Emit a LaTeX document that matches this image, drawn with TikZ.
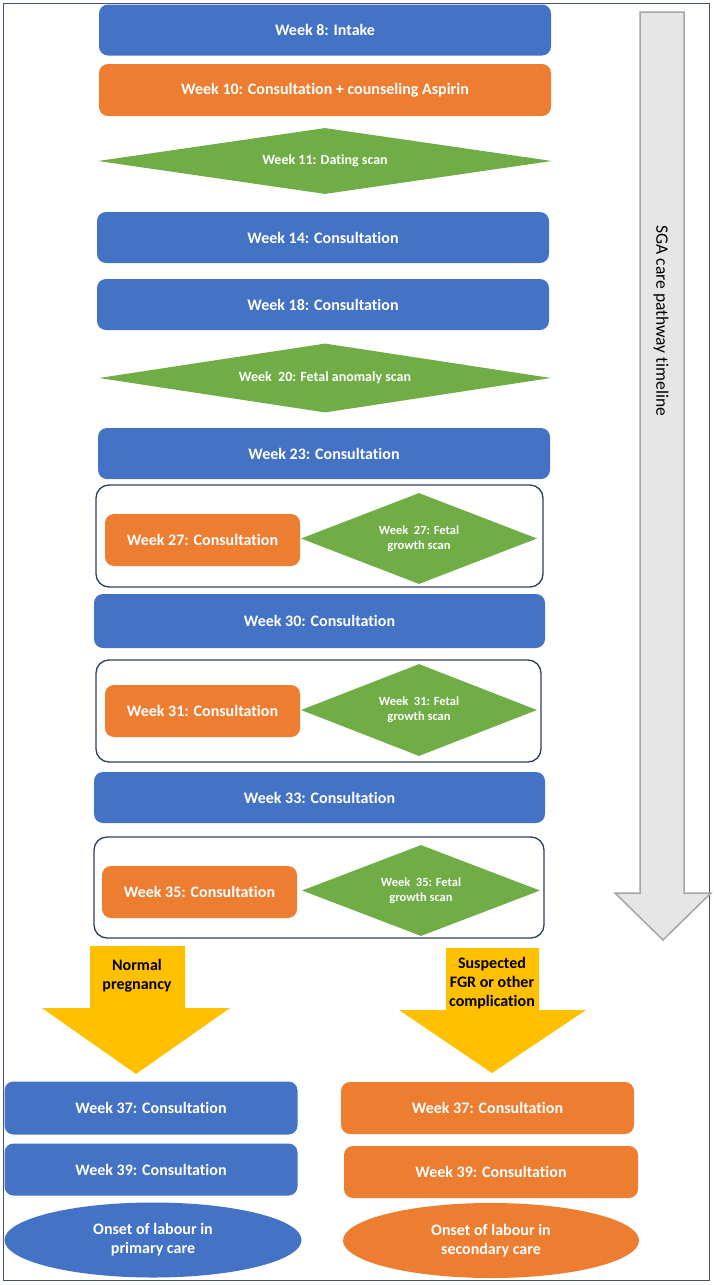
\documentclass[tikz,border=0pt]{standalone}
\usepackage{fontspec}
\setmainfont{Carlito}[Ligatures=NoCommon]
\usetikzlibrary{
  	shapes.geometric,
  	positioning,
  	calc
  }
\definecolor{wkblue}{HTML}{4472C4}
\definecolor{wkorange}{HTML}{ED7D31}
\definecolor{wkgreen}{HTML}{70AD47}
\definecolor{wkyellow}{HTML}{FFC000}
\definecolor{wkgrey}{HTML}{E7E6E6}
\definecolor{wkgreyline}{HTML}{A5A5A5}
\definecolor{wknavy}{HTML}{2F3D5C}
\definecolor{wkframe}{HTML}{44546A}
\tikzstyle{visit}=[rectangle,rounded corners=9pt,text=white,inner sep=0pt,align=center,
  font=\bfseries\fontsize{16}{19}\selectfont]
\tikzstyle{bvisit}=[visit,fill=wkblue]
\tikzstyle{ovisit}=[visit,fill=wkorange]
\tikzstyle{scan}=[diamond,fill=wkgreen,text=white,inner sep=0pt,align=center,aspect=7,
  font=\bfseries\fontsize{14}{17}\selectfont]
\tikzstyle{gscan}=[scan,aspect=2.6,font=\bfseries\fontsize{12.5}{15}\selectfont]
\tikzstyle{grp}=[draw=wknavy,line width=1.3pt,rounded corners=13pt]
\tikzstyle{onset}=[ellipse,text=white,inner sep=0pt,align=center,
  font=\bfseries\fontsize{16}{19}\selectfont]
\tikzstyle{branch}=[align=center,text=black,font=\bfseries\fontsize{16}{19}\selectfont]

\begin{document}
\begin{tikzpicture}[x=1pt,y=-1pt]
    \useasboundingbox (0,0) rectangle (714,1285);
    \draw [wkframe,line width=1pt] (3,3) rectangle (709,1280);

    % timeline arrow down the right side
    \draw [fill=wkgrey,draw=wkgreyline,line width=1.5pt]
       (640,12) -- (684,12) -- (684,893) -- (711,893) --
       (663,940) -- (615,893) -- (640,893) -- cycle;
    \node [rotate=-90,font=\fontsize{17.5}{20}\selectfont] (tl) at (661,321)
       {SGA care pathway timeline};

    % first trimester and mid pregnancy
    \node [bvisit,minimum width=452pt,minimum height=51pt] (w8) at (325,30) {Week 8: Intake};
    \node [ovisit,minimum width=452pt,minimum height=52pt] (w10) at (325,90)
       {Week 10: Consultation + counseling Aspirin};
    \node [scan,minimum width=454pt,minimum height=66pt] (s11) at (325,161) {Week 11: Dating scan};
    \node [bvisit,minimum width=452pt,minimum height=51pt] (w14) at (323,237.5) {Week 14: Consultation};
    \node [bvisit,minimum width=452pt,minimum height=51pt] (w18) at (323,304.5) {Week 18: Consultation};
    \node [scan,minimum width=452pt,minimum height=69pt] (s20) at (325,378)
       {Week\ \ 20: Fetal anomaly scan};
    \node [bvisit,minimum width=452pt,minimum height=51pt] (w23) at (324,453.5) {Week 23: Consultation};

    % week 27 pair
    \draw [grp] (96,485) rectangle (543,587);
    \node [ovisit,minimum width=195pt,minimum height=52pt] (w27) at (202.5,540) {Week 27: Consultation};
    \node [gscan,minimum width=236pt,minimum height=91pt] (s27) at (419,538.5)
       {Week\ \ 27: Fetal\\growth scan};

    \node [bvisit,minimum width=451pt,minimum height=54pt] (w30) at (319.5,621) {Week 30: Consultation};

    % week 31 pair
    \draw [grp] (96,660) rectangle (541,762);
    \node [ovisit,minimum width=195pt,minimum height=52pt] (w31) at (202.5,711) {Week 31: Consultation};
    \node [gscan,minimum width=236pt,minimum height=92pt] (s31) at (419,710)
       {Week\ \ 31: Fetal\\growth scan};

    \node [bvisit,minimum width=451pt,minimum height=51pt] (w33) at (319.5,797.5) {Week 33: Consultation};

    % week 35 pair
    \draw [grp] (94,837) rectangle (544,938);
    \node [ovisit,minimum width=195pt,minimum height=52pt] (w35) at (199.5,892) {Week 35: Consultation};
    \node [gscan,minimum width=238pt,minimum height=91pt] (s35) at (421,890.5)
       {Week\ \ 35: Fetal\\growth scan};

    % the two branches
    \fill [wkyellow] (90,946) -- (185,946) -- (185,1008) -- (230,1008) --
       (136,1074) -- (42,1008) -- (90,1008) -- cycle;
    \node [branch] (np) at (137,976) {Normal\\pregnancy};
    \fill [wkyellow] (446,948) -- (539,948) -- (539,1010) -- (586,1010) --
       (492,1073) -- (399,1010) -- (446,1010) -- cycle;
    \node [branch] (fgr) at (492,983) {Suspected\\FGR or other\\complication};

    % primary care
    \node [bvisit,minimum width=293pt,minimum height=53pt] (p37) at (151,1108) {Week 37: Consultation};
    \node [bvisit,minimum width=293pt,minimum height=52pt] (p39) at (151,1169.5) {Week 39: Consultation};
    \node [onset,fill=wkblue,minimum width=297pt,minimum height=75pt] (pon) at (153,1240)
       {Onset of labour in\\primary care};

    % secondary care
    \node [ovisit,minimum width=293pt,minimum height=52pt] (c37) at (487.5,1108) {Week 37: Consultation};
    \node [ovisit,minimum width=294pt,minimum height=52pt] (c39) at (491,1172) {Week 39: Consultation};
    \node [onset,fill=wkorange,minimum width=296pt,minimum height=75pt] (con) at (491,1240.5)
       {Onset of labour in\\secondary care};
\end{tikzpicture}
\end{document}
